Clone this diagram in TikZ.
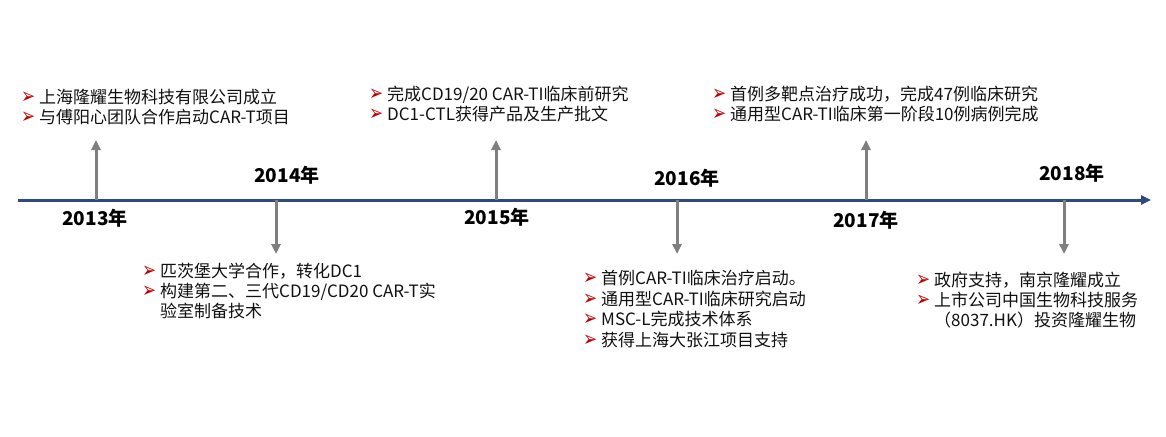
\documentclass[tikz,border=0pt]{standalone}
\usepackage{fontspec}
\usepackage{graphicx}
\setmainfont{Noto Sans CJK SC}
\newfontfamily\symfont{DejaVu Sans}
\usetikzlibrary{arrows.meta}
\definecolor{axisblue}{HTML}{2F4B7E}
\definecolor{arrowgray}{HTML}{7F7F7F}
\definecolor{bulletred}{HTML}{C00000}
\definecolor{textblack}{HTML}{111111}
\newcommand\bul{\makebox[18pt][l]{\smash{\raisebox{0pt}{\scalebox{1.05}[1.35]{\symfont\fontsize{16}{16}\selectfont\color{bulletred}➢}}}}}
\newcommand\ind{\hspace*{18pt}}
\begin{document}
\begin{tikzpicture}[x=1pt,y=-1pt,
  axisline/.style={line width=3pt, color=axisblue, -{Triangle[length=10pt,width=9pt]}},
  evarrow/.style={line width=3pt, color=arrowgray, -{Triangle[length=10pt,width=9pt]}},
  year/.style={font=\fontsize{19}{20}\selectfont\bfseries, inner sep=0pt, text=black},
  block/.style={anchor=north west, align=left, inner sep=0pt, text=textblack,
    font=\fontsize{17}{20}\selectfont}]
\useasboundingbox (0,0) rectangle (1166,436);
% axis
\coordinate (axs) at (18,200);
\coordinate (axe) at (1151,200);
\draw[axisline] (axs) -- (axe);
% event arrows
\coordinate (b13) at (96,200);  \coordinate (t13) at (96,140);
\coordinate (b14) at (276,200); \coordinate (t14) at (276,254);
\coordinate (b15) at (496,200); \coordinate (t15) at (496,140);
\coordinate (b16) at (677,200); \coordinate (t16) at (677,254);
\coordinate (b17) at (866,200); \coordinate (t17) at (866,140);
\coordinate (b18) at (1064,200); \coordinate (t18) at (1064,254);
\foreach \y in {13,14,15,16,17,18}{\draw[evarrow] (b\y) -- (t\y);}
% years
\node[year] (y13) at (95,218) {2013年};
\node[year] (y14) at (287,175) {2014年};
\node[year] (y15) at (497,217) {2015年};
\node[year] (y16) at (687,178) {2016年};
\node[year] (y17) at (866,220) {2017年};
\node[year] (y18) at (1072,173) {2018年};
% text blocks
\node[block] (e13) at (21,89) {\bul 上海隆耀生物科技有限公司成立\\ \bul 与傅阳心团队合作启动CAR-T项目};
\node[block] (e15) at (369,86) {\bul 完成CD19/20 CAR-TI临床前研究\\ \bul DC1-CTL获得产品及生产批文};
\node[block] (e17) at (712,86) {\bul 首例多靶点治疗成功，完成47例临床研究\\ \bul 通用型CAR-TI临床第一阶段10例病例完成};
\node[block] (e14) at (142,263) {\bul 匹茨堡大学合作，转化DC1\\ \bul 构建第二、三代CD19/CD20 CAR-T实\\ \ind 验室制备技术};
\node[block, font=\fontsize{17}{20.7}\selectfont] (e16) at (583,270) {\bul 首例CAR-TI临床治疗启动。\\ \bul 通用型CAR-TI临床研究启动\\ \bul MSC-L完成技术体系\\ \bul 获得上海大张江项目支持};
\node[block] (e18) at (916,272) {\bul 政府支持，南京隆耀成立\\ \bul 上市公司中国生物科技服务\\ \ind （8037.HK）投资隆耀生物};
\end{tikzpicture}
\end{document}
